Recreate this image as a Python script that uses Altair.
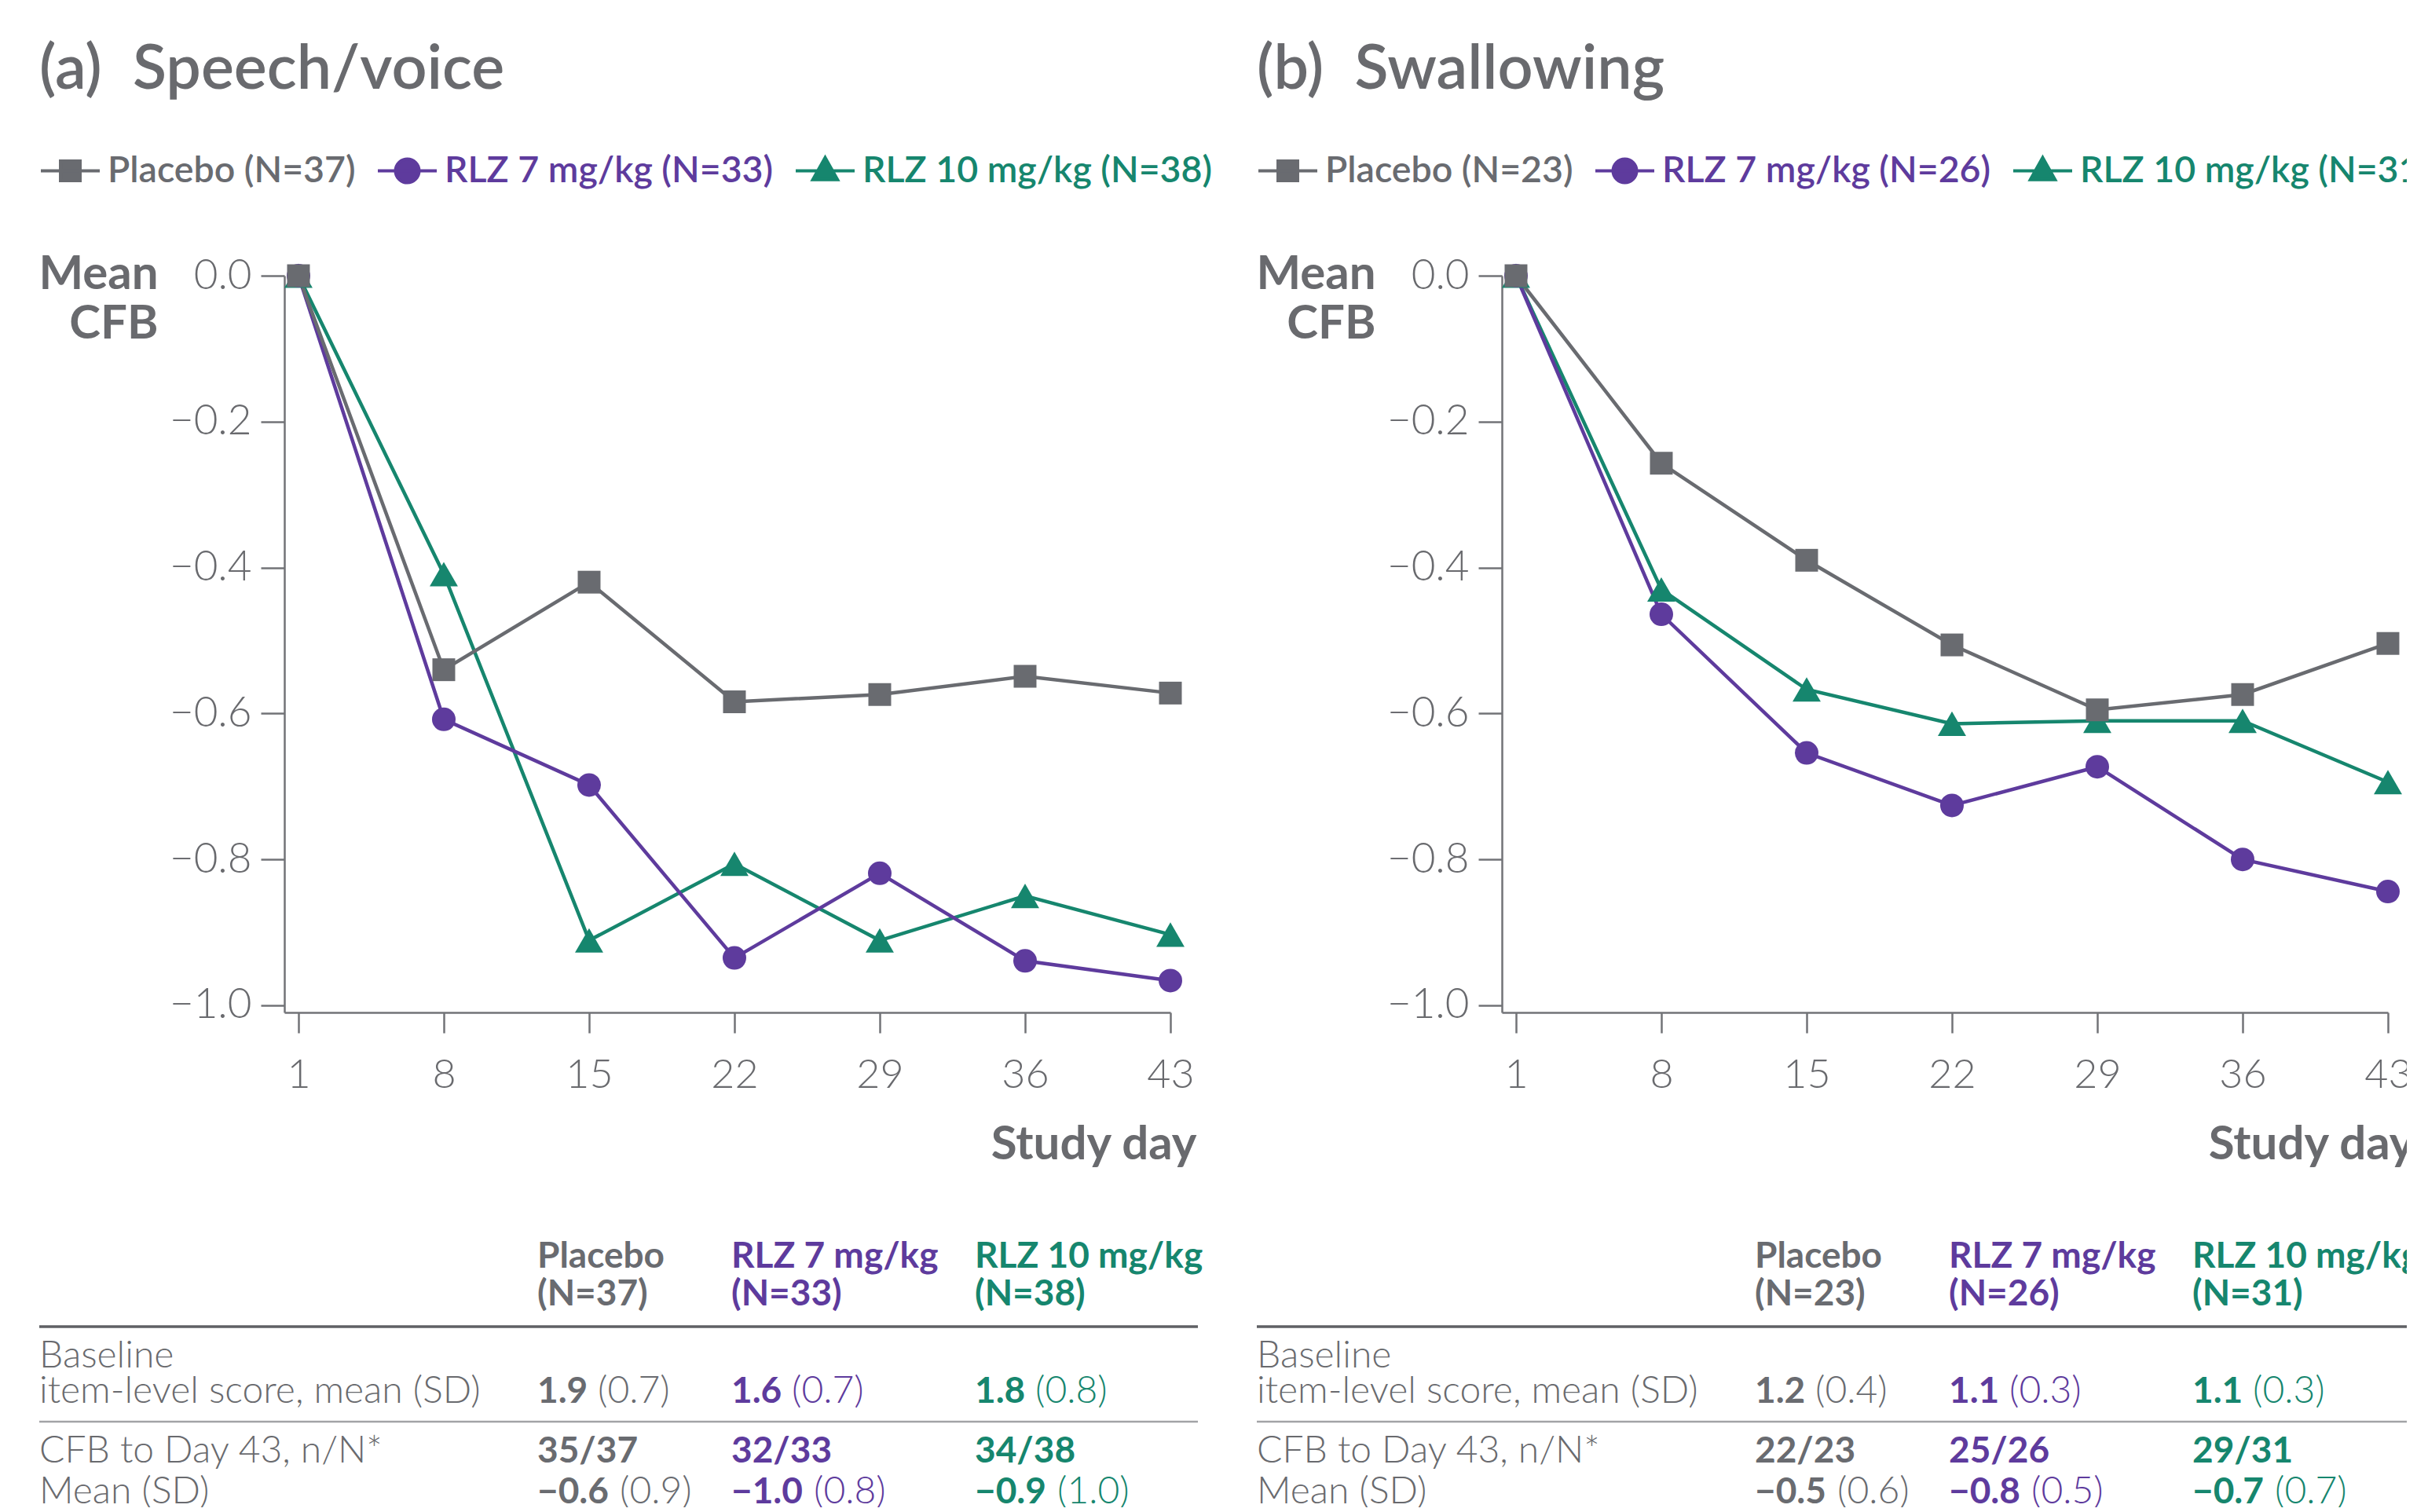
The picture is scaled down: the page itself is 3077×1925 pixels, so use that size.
import altair as alt
import pandas as pd

# ---------------- data ----------------
days = [1, 8, 15, 22, 29, 36, 43]
groups = ["Placebo", "RLZ 7 mg/kg", "RLZ 10 mg/kg"]

# (a) Speech/voice
speech_title = "(a)\u00a0 Speech/voice"
speech_n = [37, 33, 38]
speech_placebo = [0.0, -0.540, -0.420, -0.584, -0.574, -0.549, -0.572]
speech_rlz7 = [0.0, -0.608, -0.698, -0.935, -0.819, -0.939, -0.966]
speech_rlz10 = [0.0, -0.409, -0.911, -0.806, -0.911, -0.850, -0.903]
speech_baseline_mean = [1.9, 1.6, 1.8]
speech_baseline_sd = [0.7, 0.7, 0.8]
speech_cfb_n = [35, 32, 34]
speech_cfb_mean = [-0.6, -1.0, -0.9]
speech_cfb_sd = [0.9, 0.8, 1.0]

# (b) Swallowing
swallow_title = "(b)\u00a0 Swallowing"
swallow_n = [23, 26, 31]
swallow_placebo = [0.0, -0.257, -0.390, -0.506, -0.595, -0.574, -0.504]
swallow_rlz7 = [0.0, -0.464, -0.654, -0.726, -0.673, -0.800, -0.844]
swallow_rlz10 = [0.0, -0.430, -0.567, -0.614, -0.610, -0.610, -0.694]
swallow_baseline_mean = [1.2, 1.1, 1.1]
swallow_baseline_sd = [0.4, 0.3, 0.3]
swallow_cfb_n = [22, 25, 29]
swallow_cfb_mean = [-0.5, -0.8, -0.7]
swallow_cfb_sd = [0.6, 0.5, 0.7]

y_ticks = [0.0, -0.2, -0.4, -0.6, -0.8, -1.0]

# ---------------- style ----------------
GRAY = "#696b70"
PURPLE = "#5e3b9d"
GREEN = "#16866e"
TEXT_GRAY = "#696a6e"
AXIS_GRAY = "#727377"
colors = [GRAY, PURPLE, GREEN]
shapes = ["square", "circle", "triangle-up"]
sizes = [840, 900, 1290]
legend_paths = [
    "M-1,0H1M-0.333,-0.333H0.333V0.333H-0.333Z",
    "M-1,0H1M0.4,0A0.4,0.4,0,1,1,-0.4,0A0.4,0.4,0,1,1,0.4,0Z",
    "M-1,0H1M0,-0.45L0.42,0.3H-0.42Z",
]
FONT = "Lato"
PLOT_W = 1128
PLOT_H = 938
TFS_BOLD = 46
TFS_LIGHT = 48


def fmt(v):
    return f"{v:.1f}".replace("-", "\u2212")


def build_panel(title, n, series_vals, bmean, bsd, cfbn, cmean, csd):
    df = pd.DataFrame({
        "day": days * 3,
        "value": series_vals[0] + series_vals[1] + series_vals[2],
        "group": sum([[g] * len(days) for g in groups], []),
    })
    x = alt.X(
        "day:Q",
        scale=alt.Scale(domain=[0.32, 43], nice=False, zero=False),
        axis=alt.Axis(
            values=days, format="d", title="Study day", grid=False,
            labelFont=FONT, labelFontSize=52, labelFontWeight=300, labelColor=TEXT_GRAY,
            labelPadding=28, labelAngle=0, labelFlush=False, labelOverlap=False,
            tickSize=26, tickWidth=2.5, tickColor=AXIS_GRAY,
            domainColor=AXIS_GRAY, domainWidth=2.5,
            titleFont=FONT, titleFontSize=60, titleFontWeight=700, titleColor=TEXT_GRAY,
            titleAnchor="end", titleAlign="right", titleBaseline="alphabetic",
            titleX=PLOT_W + 33, titleY=186,
        ),
    )
    y = alt.Y(
        "value:Q",
        scale=alt.Scale(domain=[-1.0097, 0], nice=False, zero=False),
        axis=alt.Axis(
            values=y_ticks, format=".1f", title=["Mean", "CFB"], grid=False,
            labelFont=FONT, labelFontSize=53, labelFontWeight=300, labelColor=TEXT_GRAY,
            labelPadding=12, labelFlush=False, labelOverlap=False,
            tickSize=30, tickWidth=2.5, tickColor=AXIS_GRAY,
            domainColor=AXIS_GRAY, domainWidth=2.5,
            titleFont=FONT, titleFontSize=60, titleFontWeight=700, titleColor=TEXT_GRAY,
            titleAngle=0, titleAlign="right", titleBaseline="alphabetic",
            titleX=-161, titleY=16, titleLineHeight=63,
        ),
    )
    base = alt.Chart(df)
    order = [2, 1, 0]
    lines = [
        base.transform_filter(alt.datum.group == groups[i])
        .mark_line(color=colors[i], strokeWidth=4.5)
        .encode(x=x, y=y)
        for i in order
    ]
    points = [
        base.transform_filter(alt.datum.group == groups[i])
        .mark_point(shape=shapes[i], size=sizes[i], filled=True, opacity=1, color=colors[i])
        .encode(x=x, y=y)
        for i in order
    ]

    labels = [f"{g} (N={k})" for g, k in zip(groups, n)]
    label_color = (
        f"indexof(datum.label, 'Placebo') >= 0 ? '{GRAY}' : "
        f"indexof(datum.label, 'RLZ 7') >= 0 ? '{PURPLE}' : '{GREEN}'"
    )
    legend = alt.Legend(
        orient="none", legendX=-312, legendY=-300, direction="horizontal",
        title=title, titleFont=FONT, titleFontSize=79, titleFontWeight=600,
        titleColor=TEXT_GRAY, titleBaseline="top", titlePadding=48, titleLimit=3000,
        titleAnchor="start",
        labelFont=FONT, labelFontSize=46.5, labelFontWeight=600, labelLimit=3000,
        labelColor=alt.ExprRef(expr=label_color), labelOffset=8,
        columnPadding=20, symbolSize=5625, symbolStrokeWidth=4, padding=0,
    )
    leg = (
        alt.Chart(pd.DataFrame({"label": labels}))
        .transform_filter("false")
        .mark_point(filled=True, opacity=1, strokeWidth=4, size=5625)
        .encode(
            color=alt.Color("label:N", scale=alt.Scale(domain=labels, range=colors), legend=legend),
            stroke=alt.Stroke("label:N", scale=alt.Scale(domain=labels, range=colors), legend=legend),
            shape=alt.Shape("label:N", scale=alt.Scale(domain=labels, range=legend_paths), legend=legend),
        )
    )
    plot = alt.layer(*lines, *points, leg).properties(width=PLOT_W, height=PLOT_H)

    # ---------- table ----------
    recs = []
    for r, t in [(3, "Baseline"), (4, "item-level score, mean (SD)"),
                 (6, "CFB to Day 43, n/N*"), (7, "Mean (SD)")]:
        recs.append({"col": 0, "row": r, "text": t, "kind": "label", "grp": -1})
    for i in range(3):
        c = i + 1
        recs += [
            {"col": c, "row": 0, "text": groups[i], "kind": "bold", "grp": i},
            {"col": c, "row": 1, "text": f"(N={n[i]})", "kind": "bold", "grp": i},
            {"col": c, "row": 4, "text": f"{bmean[i]:.1f}", "kind": "bold", "grp": i},
            {"col": c, "row": 4, "text": f"({bsd[i]:.1f})", "kind": "sd1", "grp": i},
            {"col": c, "row": 6, "text": f"{cfbn[i]}/{n[i]}", "kind": "bold", "grp": i},
            {"col": c, "row": 7, "text": fmt(cmean[i]), "kind": "bold", "grp": i},
            {"col": c, "row": 7, "text": f"({csd[i]:.1f})", "kind": "sd2", "grp": i},
        ]
    tdf = pd.DataFrame(recs)
    tx = alt.X("col:Q", scale=alt.Scale(domain=[0, 1, 2, 3, 4],
                                        range=[-312, 322, 569, 879, 1163],
                                        nice=False, zero=False), axis=None)
    ty = alt.Y("row:Q", scale=alt.Scale(domain=[0, 1, 2, 3, 4, 5, 6, 7],
                                        range=[311, 359, 400, 438, 483, 521, 559, 611],
                                        nice=False, zero=False), axis=None)
    tbase = alt.Chart(tdf)
    tlayers = [
        tbase.transform_filter(alt.datum.kind == "label")
        .mark_text(align="left", baseline="middle", font=FONT, fontSize=TFS_LIGHT,
                   fontWeight=300, color=TEXT_GRAY)
        .encode(x=tx, y=ty, text="text:N")
    ]
    for i in range(3):
        g = tbase.transform_filter(alt.datum.grp == i)
        tlayers.append(
            g.transform_filter(alt.datum.kind == "bold")
            .mark_text(align="left", baseline="middle", font=FONT, fontSize=TFS_BOLD,
                       fontWeight=700, color=colors[i])
            .encode(x=tx, y=ty, text="text:N"))
        tlayers.append(
            g.transform_filter(alt.datum.kind == "sd1")
            .mark_text(align="left", baseline="middle", font=FONT, fontSize=TFS_LIGHT,
                       fontWeight=300, color=colors[i], dx=77)
            .encode(x=tx, y=ty, text="text:N"))
        tlayers.append(
            g.transform_filter(alt.datum.kind == "sd2")
            .mark_text(align="left", baseline="middle", font=FONT, fontSize=TFS_LIGHT,
                       fontWeight=300, color=colors[i], dx=105)
            .encode(x=tx, y=ty, text="text:N"))
    sep_df = pd.DataFrame({"row": [2, 5], "style": ["major", "minor"]})
    sb = alt.Chart(sep_df)
    tlayers.append(
        sb.transform_filter(alt.datum.style == "major")
        .mark_rule(color="#5f6064", strokeWidth=3.5)
        .encode(x=alt.X(datum=0, type="quantitative"), x2=alt.X2(datum=4), y=ty))
    tlayers.append(
        sb.transform_filter(alt.datum.style == "minor")
        .mark_rule(color="#a2a3a6", strokeWidth=2.5)
        .encode(x=alt.X(datum=0, type="quantitative"), x2=alt.X2(datum=4), y=ty))
    table = alt.layer(*tlayers).properties(width=PLOT_W, height=600)

    return plot, table


plot_a, table_a = build_panel(
    speech_title, speech_n, [speech_placebo, speech_rlz7, speech_rlz10],
    speech_baseline_mean, speech_baseline_sd, speech_cfb_n, speech_cfb_mean, speech_cfb_sd)
plot_b, table_b = build_panel(
    swallow_title, swallow_n, [swallow_placebo, swallow_rlz7, swallow_rlz10],
    swallow_baseline_mean, swallow_baseline_sd, swallow_cfb_n, swallow_cfb_mean, swallow_cfb_sd)

chart = (
    alt.concat(plot_a, plot_b, table_a, table_b, columns=2,
               spacing={"row": 0, "column": 422}, bounds="flush")
    .resolve_scale(color="independent", stroke="independent", shape="independent")
    .properties(padding={"left": 40, "top": 43, "right": -30, "bottom": -5})
    .configure_view(stroke=None)
)

chart.save("out.html", embed_options={"renderer": "svg", "actions": False})
